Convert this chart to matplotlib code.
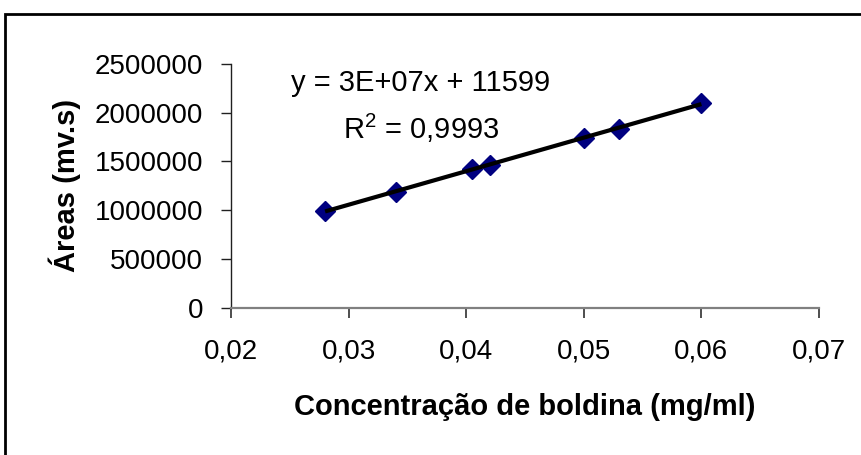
import numpy as np
import matplotlib
matplotlib.use('Agg')
from matplotlib import pyplot as plt
from matplotlib.patches import Rectangle
from matplotlib.ticker import FuncFormatter, MultipleLocator

plt.rcParams['font.family'] = ['Liberation Sans', 'DejaVu Sans']
plt.rcParams['mathtext.fontset'] = 'custom'
plt.rcParams['mathtext.rm'] = 'Liberation Sans'

# dados
concentracao = [0.028, 0.034, 0.0405, 0.042, 0.050, 0.053, 0.060]
areas = [993000, 1185000, 1425000, 1466000, 1741000, 1833000, 2101000]
equacao = 'y = 3E+07x + 11599'
r2_texto = 'R$^2$ = 0,9993'

fig = plt.figure(figsize=(8.61, 4.55), dpi=100)
ax = fig.add_axes([231 / 861, 1 - 307.5 / 455, 588 / 861, 243.5 / 455])

# linha de tendência
coef = np.polyfit(concentracao, areas, 1)
xs = np.array([min(concentracao), max(concentracao)])
ax.plot(xs, np.polyval(coef, xs), color='black', lw=3, zorder=3, solid_capstyle='butt')
ax.plot(concentracao, areas, 'D', color='#000080', markersize=10, zorder=2)

ax.set_xlim(0.02, 0.07)
ax.set_ylim(0, 2500000)
ax.xaxis.set_major_locator(MultipleLocator(0.01))
ax.yaxis.set_major_locator(MultipleLocator(500000))
ax.xaxis.set_major_formatter(FuncFormatter(lambda v, p: ('%.2f' % v).replace('.', ',')))
ax.yaxis.set_major_formatter(FuncFormatter(lambda v, p: '%d' % v))

for s in ['top', 'right']:
    ax.spines[s].set_visible(False)
ax.spines['bottom'].set_color('#808080')
ax.spines['bottom'].set_linewidth(1.6)
ax.spines['left'].set_color('#202020')
ax.spines['left'].set_linewidth(1.0)
ax.tick_params(axis='y', direction='out', length=7, width=1, color='#202020', labelsize=20, pad=13)
ax.tick_params(axis='x', direction='out', length=7, width=1.2, color='#303030', labelsize=20, pad=15.5)

ax.set_xlabel('Concentração de boldina (mg/ml)', fontsize=21, fontweight='bold', labelpad=20)
ax.set_ylabel('Áreas (mv.s)', fontsize=21, fontweight='bold', labelpad=10)

ax.text(421 / 861, 1 - 83 / 455, equacao, transform=fig.transFigure, fontsize=21,
        ha='center', va='center')
ax.text(421 / 861, 1 - 128 / 455, r2_texto, transform=fig.transFigure, fontsize=21,
        ha='center', va='center')

# moldura da área do gráfico
fig.patches.append(Rectangle((5 / 861, -0.2), 1.2, 1.2 - 14 / 455, transform=fig.transFigure,
                             fill=False, edgecolor='black', lw=2, clip_on=False))

plt.savefig('out.png', dpi=100)
